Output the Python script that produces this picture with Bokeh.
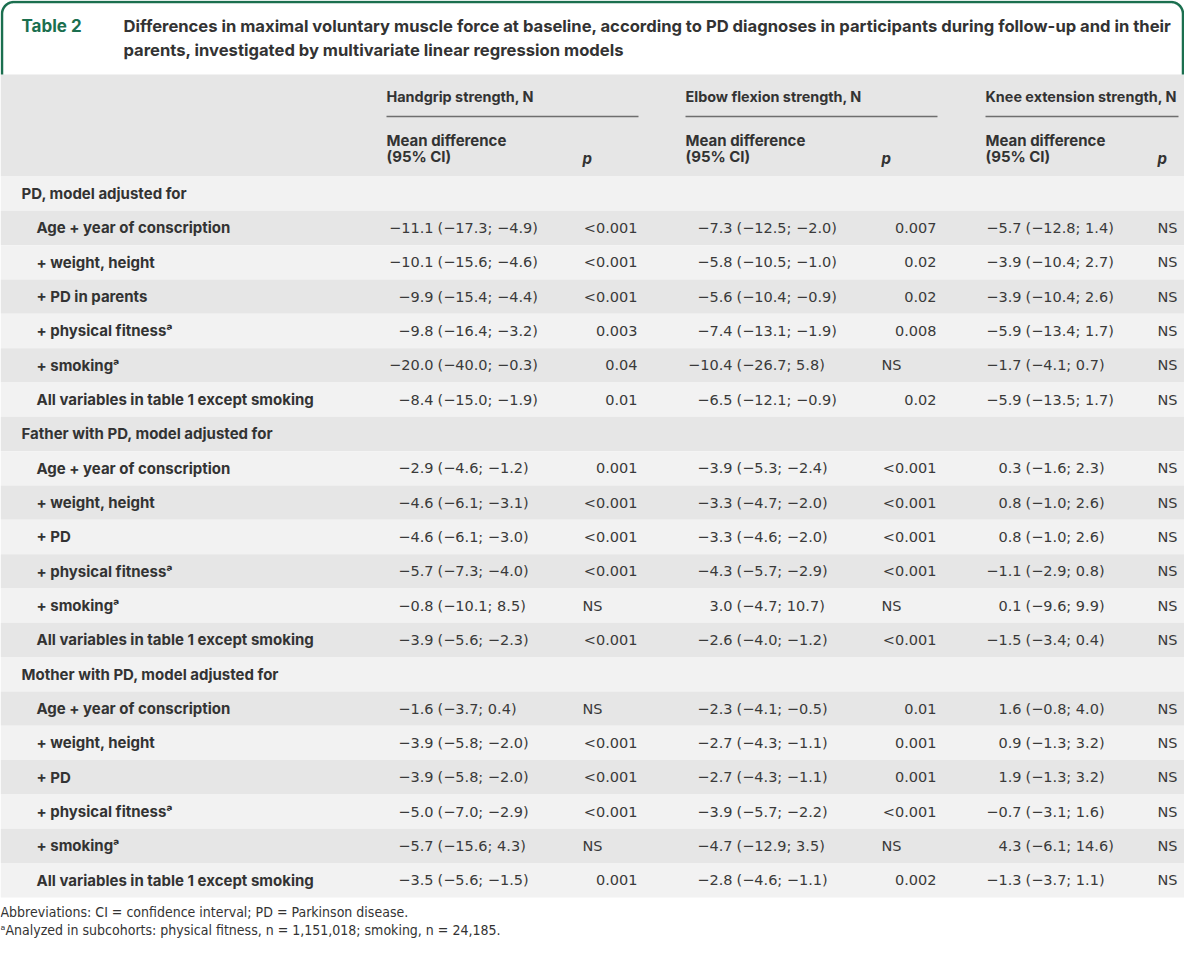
import numpy as np
from bokeh.plotting import figure
from bokeh.models import Range1d
from bokeh.core.properties import value
from bokeh.embed import file_html
from bokeh.resources import INLINE

MINUS = "\u2212"
SUP = "\u1d43"

title_tag = "Table 2"
title_lines = [
    "Differences in maximal voluntary muscle force at baseline, according to PD diagnoses in participants during follow-up and in their",
    "parents, investigated by multivariate linear regression models",
]
group_titles = ["Handgrip strength, N", "Elbow flexion strength, N", "Knee extension strength, N"]
sub_mean = ["Mean difference", "(95% CI)"]
sub_p = "p"

row_labels = [
    "PD, model adjusted for",
    "Age + year of conscription",
    "+ weight, height",
    "+ PD in parents",
    "+ physical fitness" + SUP,
    "+ smoking" + SUP,
    "All variables in table 1 except smoking",
    "Father with PD, model adjusted for",
    "Age + year of conscription",
    "+ weight, height",
    "+ PD",
    "+ physical fitness" + SUP,
    "+ smoking" + SUP,
    "All variables in table 1 except smoking",
    "Mother with PD, model adjusted for",
    "Age + year of conscription",
    "+ weight, height",
    "+ PD",
    "+ physical fitness" + SUP,
    "+ smoking" + SUP,
    "All variables in table 1 except smoking",
]
section_rows = [0, 7, 14]

hand_mean = [None, -11.1, -10.1, -9.9, -9.8, -20.0, -8.4, None, -2.9, -4.6, -4.6, -5.7, -0.8, -3.9, None, -1.6, -3.9, -3.9, -5.0, -5.7, -3.5]
hand_lo = [None, -17.3, -15.6, -15.4, -16.4, -40.0, -15.0, None, -4.6, -6.1, -6.1, -7.3, -10.1, -5.6, None, -3.7, -5.8, -5.8, -7.0, -15.6, -5.6]
hand_hi = [None, -4.9, -4.6, -4.4, -3.2, -0.3, -1.9, None, -1.2, -3.1, -3.0, -4.0, 8.5, -2.3, None, 0.4, -2.0, -2.0, -2.9, 4.3, -1.5]
hand_p = ["", "<0.001", "<0.001", "<0.001", "0.003", "0.04", "0.01", "", "0.001", "<0.001", "<0.001", "<0.001", "NS", "<0.001", "", "NS", "<0.001", "<0.001", "<0.001", "NS", "0.001"]

elbow_mean = [None, -7.3, -5.8, -5.6, -7.4, -10.4, -6.5, None, -3.9, -3.3, -3.3, -4.3, 3.0, -2.6, None, -2.3, -2.7, -2.7, -3.9, -4.7, -2.8]
elbow_lo = [None, -12.5, -10.5, -10.4, -13.1, -26.7, -12.1, None, -5.3, -4.7, -4.6, -5.7, -4.7, -4.0, None, -4.1, -4.3, -4.3, -5.7, -12.9, -4.6]
elbow_hi = [None, -2.0, -1.0, -0.9, -1.9, 5.8, -0.9, None, -2.4, -2.0, -2.0, -2.9, 10.7, -1.2, None, -0.5, -1.1, -1.1, -2.2, 3.5, -1.1]
elbow_p = ["", "0.007", "0.02", "0.02", "0.008", "NS", "0.02", "", "<0.001", "<0.001", "<0.001", "<0.001", "NS", "<0.001", "", "0.01", "0.001", "0.001", "<0.001", "NS", "0.002"]

knee_mean = [None, -5.7, -3.9, -3.9, -5.9, -1.7, -5.9, None, 0.3, 0.8, 0.8, -1.1, 0.1, -1.5, None, 1.6, 0.9, 1.9, -0.7, 4.3, -1.3]
knee_lo = [None, -12.8, -10.4, -10.4, -13.4, -4.1, -13.5, None, -1.6, -1.0, -1.0, -2.9, -9.6, -3.4, None, -0.8, -1.3, -1.3, -3.1, -6.1, -3.7]
knee_hi = [None, 1.4, 2.7, 2.6, 1.7, 0.7, 1.7, None, 2.3, 2.6, 2.6, 0.8, 9.9, 0.4, None, 4.0, 3.2, 3.2, 1.6, 14.6, 1.1]
knee_p = ["", "NS", "NS", "NS", "NS", "NS", "NS", "", "NS", "NS", "NS", "NS", "NS", "NS", "", "NS", "NS", "NS", "NS", "NS", "NS"]

footnotes = [
    "Abbreviations: CI = confidence interval; PD = Parkinson disease.",
    SUP + "Analyzed in subcohorts: physical fitness, n = 1,151,018; smoking, n = 24,185.",
]

# ---------------- layout -----------------
GREEN = "#1b6f4f"
TXT = "#333333"
VAL = "#3a3a3a"
FONT = "Inter"
VFONT = "DejaVu Sans"
NARROW = "'Liberation Sans Narrow', 'DejaVu Sans Condensed', Roboto"

W, H = 1184, 938
ROW_TOP = 176.0
ROW_H = 34.33
HEAD_TOP = 74.0

group_x = [386, 685, 985]
group_line_end = [638, 937, 1178]
paren_x = [437, 736, 1025]
p_right = [637, 936, 1190]
p_left = [582, 881, 1157]


def fmt(v):
    return f"{v:.1f}".replace("-", MINUS)


p = figure(width=W, height=H, x_range=Range1d(0, W), y_range=Range1d(H, 0),
           output_backend="svg", toolbar_location=None, min_border=0,
           x_axis_location=None, y_axis_location=None)
p.grid.visible = False
p.outline_line_color = None
p.background_fill_color = "white"
p.border_fill_color = "white"

n = len(row_labels)
idx = np.arange(n)
tops = ROW_TOP + idx * ROW_H
bots = tops + ROW_H
cent = tops + ROW_H / 2
colors = ["#f2f2f2" if i % 2 == 0 else "#e6e6e6" for i in idx]

# header band and row bands
p.quad(left=0, right=W, top=HEAD_TOP, bottom=ROW_TOP, fill_color="#e6e6e6", line_color=None)
p.quad(left=0, right=W, top=tops, bottom=bots, fill_color=colors, line_color=None)

# green border with rounded top corners
r = 12
L, R, T, B = 1.5, W - 1.5, 1.5, 74
th1 = np.linspace(np.pi, 1.5 * np.pi, 20)
th2 = np.linspace(1.5 * np.pi, 2 * np.pi, 20)
bx = [L] + list(L + r + r * np.cos(th1)) + list(R - r + r * np.cos(th2)) + [R]
by = [B] + list(T + r + r * np.sin(th1)) + list(T + r + r * np.sin(th2)) + [B]
p.line(bx, by, line_color=GREEN, line_width=2.5)

# title
p.text(x=[21], y=[25], text=[title_tag], text_font=value(FONT), text_font_style="bold",
       text_font_size="17px", text_color=GREEN, text_baseline="middle")
p.text(x=[123, 123], y=[25, 49], text=title_lines, text_font=value(FONT), text_font_style="bold",
       text_font_size="16.6px", text_color=TXT, text_baseline="middle")

# group headers
p.text(x=group_x, y=[96] * 3, text=group_titles, text_font=value(FONT), text_font_style="bold",
       text_font_size="14.4px", text_color=TXT, text_baseline="middle")
p.segment(x0=group_x, x1=group_line_end, y0=[116] * 3, y1=[116] * 3, line_color="#6e6e6e", line_width=1.5)
p.text(x=group_x * 2, y=[140] * 3 + [156] * 3, text=[sub_mean[0]] * 3 + [sub_mean[1]] * 3,
       text_font=value(FONT), text_font_style="bold", text_font_size="15px", text_color=TXT,
       text_baseline="middle")
p.text(x=p_left, y=[158] * 3, text=[sub_p] * 3, text_font=value(FONT), text_font_style="bold italic",
       text_font_size="15px", text_color=TXT, text_baseline="middle")

# row labels
lab_x = [21 if i in section_rows else 36 for i in idx]
p.text(x=lab_x, y=cent, text=row_labels, text_font=value(FONT), text_font_style="bold",
       text_font_size="15px", text_color=TXT, text_baseline="middle")

# values
VSIZE = "14.5px"
for k, (means, los, his, ps) in enumerate([(hand_mean, hand_lo, hand_hi, hand_p),
                                           (elbow_mean, elbow_lo, elbow_hi, elbow_p),
                                           (knee_mean, knee_lo, knee_hi, knee_p)]):
    ys, mtxt, ctxt = [], [], []
    for i in idx:
        if means[i] is None:
            continue
        ys.append(cent[i])
        mtxt.append(fmt(means[i]))
        ctxt.append(f"({fmt(los[i])}; {fmt(his[i])})")
    p.text(x=[paren_x[k] - 4] * len(ys), y=ys, text=mtxt, text_font=value(VFONT), text_font_size=VSIZE,
           text_color=VAL, text_baseline="middle", text_align="right")
    p.text(x=[paren_x[k]] * len(ys), y=ys, text=ctxt, text_font=value(VFONT), text_font_size=VSIZE,
           text_color=VAL, text_baseline="middle", text_align="left")
    ys_num = [cent[i] for i in idx if ps[i] not in ("", "NS")]
    t_num = [ps[i] for i in idx if ps[i] not in ("", "NS")]
    ys_ns = [cent[i] for i in idx if ps[i] == "NS"]
    if ys_num:
        p.text(x=[p_right[k]] * len(ys_num), y=ys_num, text=t_num, text_font=value(VFONT),
               text_font_size=VSIZE, text_color=VAL, text_baseline="middle", text_align="right")
    if ys_ns:
        p.text(x=[p_left[k]] * len(ys_ns), y=ys_ns, text=["NS"] * len(ys_ns), text_font=value(VFONT),
               text_font_size=VSIZE, text_color=VAL, text_baseline="middle", text_align="left")

# footnotes
p.text(x=[0, 0], y=[911, 929], text=footnotes, text_font=value(NARROW), text_font_size="14px",
       text_color=TXT, text_baseline="middle")

open("out.html", "w").write(file_html(p, INLINE))
